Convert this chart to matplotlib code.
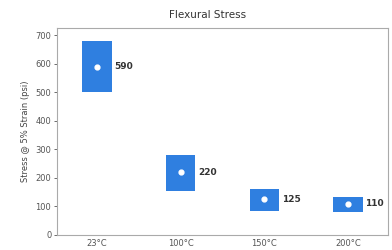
import matplotlib
matplotlib.use("Agg")
import matplotlib.pyplot as plt

categories = ["23°C", "100°C", "150°C", "200°C"]
means = [590, 220, 125, 110]
lows = [500, 155, 85, 80]
highs = [680, 280, 160, 132]

fig = plt.figure(figsize=(3.92, 2.5), dpi=100)
ax = fig.add_axes([0.145, 0.06, 0.845, 0.828])
x = list(range(len(categories)))
heights = [h - l for h, l in zip(highs, lows)]
ax.bar(x, heights, bottom=lows, width=0.35, color="#2f7fe0", edgecolor="none")
ax.scatter(x, means, s=12, color="white", zorder=3)
for xi, m in zip(x, means):
    ax.annotate(str(m), (xi + 0.175, m), xytext=(2, 0), textcoords="offset points",
                va="center", ha="left", fontsize=6.5, fontweight="bold", color="#333333")
ax.set_xlim(-0.48, 3.48)
ax.set_ylim(0, 725)
ax.set_yticks(range(0, 701, 100))
ax.set_xticks(x)
ax.set_xticklabels(categories)
ax.tick_params(axis="both", labelsize=6, colors="#555555", length=2, width=0.6, pad=2)
ax.tick_params(axis="x", length=0, pad=3)
for s in ax.spines.values():
    s.set_color("#aaaaaa")
    s.set_linewidth(0.8)
ax.set_ylabel("Stress @ 5% Strain (psi)", fontsize=6, color="#444444", labelpad=4)
fig.text(208 / 392, 1 - 15 / 250, "Flexural Stress", fontsize=7.5, color="#333333",
         ha="center", va="center")
fig.savefig("out.png", dpi=100)
